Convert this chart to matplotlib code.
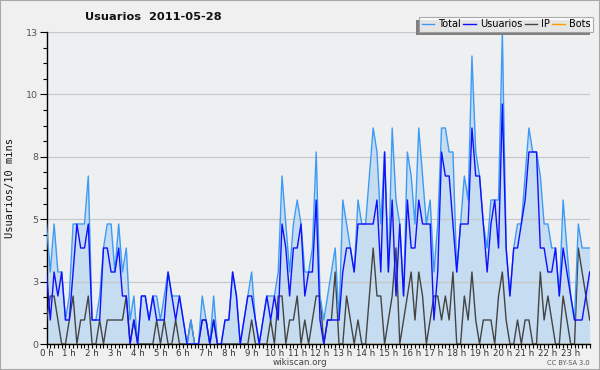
import matplotlib
matplotlib.use("Agg")
import matplotlib.pyplot as plt
from matplotlib.ticker import FixedLocator, MultipleLocator, FuncFormatter
from matplotlib.patches import Rectangle
import numpy as np

title = "Usuarios  2011-05-28"
ylabel = "Usuarios/10 mins"
series_names = ["Total", "Usuarios", "IP", "Bots"]

total = [5, 3, 5, 3, 3, 1, 2, 5, 5, 5, 5, 7, 1, 1, 2, 4, 5, 5, 3, 5, 3, 4, 1, 2,
         0, 2, 2, 1, 2, 2, 1, 2, 3, 2, 2, 2, 1, 0, 1, 0, 0, 2, 1, 0, 2, 0, 0, 1,
         1, 3, 2, 0, 1, 2, 3, 1, 0, 1, 2, 2, 2, 3, 7, 5, 3, 5, 6, 5, 3, 3, 4, 8,
         2, 1, 2, 3, 4, 1, 6, 5, 4, 3, 6, 5, 5, 7, 9, 8, 5, 8, 3, 9, 6, 5, 2, 8,
         7, 5, 9, 7, 5, 6, 3, 5, 9, 9, 8, 8, 3, 5, 7, 6, 12, 8, 7, 5, 4, 6, 6, 6,
         13, 4, 2, 4, 5, 5, 7, 9, 8, 8, 7, 5, 5, 4, 4, 2, 6, 4, 2, 1, 5, 4, 4, 4]
usuarios = [3, 1, 3, 2, 3, 1, 1, 3, 5, 4, 4, 5, 1, 1, 1, 4, 4, 3, 3, 4, 2, 2, 0, 1,
            0, 2, 2, 1, 2, 1, 1, 1, 3, 2, 1, 2, 1, 0, 0, 0, 0, 1, 1, 0, 1, 0, 0, 1,
            1, 3, 2, 0, 1, 2, 2, 1, 0, 1, 2, 1, 2, 1, 5, 4, 2, 4, 4, 5, 2, 3, 3, 6,
            1, 0, 1, 1, 1, 1, 3, 4, 4, 3, 5, 5, 5, 5, 5, 6, 3, 8, 3, 6, 2, 5, 2, 6,
            4, 4, 6, 5, 5, 5, 1, 3, 8, 7, 7, 5, 3, 5, 5, 5, 9, 7, 7, 5, 3, 5, 6, 4,
            10, 4, 2, 4, 4, 5, 6, 8, 8, 8, 4, 4, 3, 3, 4, 2, 4, 3, 2, 1, 1, 1, 2, 3]
ip = [1, 2, 2, 1, 0, 0, 1, 2, 0, 1, 1, 2, 0, 0, 1, 0, 1, 1, 1, 1, 1, 2, 0, 1,
      0, 0, 0, 0, 0, 1, 0, 1, 0, 0, 1, 0, 0, 0, 1, 0, 0, 1, 1, 0, 1, 0, 0, 0,
      0, 0, 0, 0, 0, 0, 1, 0, 0, 0, 0, 1, 0, 2, 2, 0, 1, 1, 2, 0, 1, 0, 1, 2,
      2, 0, 1, 1, 3, 0, 0, 2, 1, 0, 1, 0, 0, 2, 4, 2, 2, 0, 1, 2, 4, 0, 1, 2,
      3, 1, 3, 2, 0, 1, 2, 2, 1, 2, 1, 3, 0, 0, 2, 1, 3, 1, 0, 1, 1, 1, 0, 2,
      3, 1, 0, 0, 1, 0, 1, 1, 0, 0, 3, 1, 2, 1, 0, 0, 2, 1, 0, 0, 4, 3, 2, 1]
bots = [0] * 144

hour_labels = [f"{h} h" for h in range(24)]
ymax = 13

x = np.arange(len(total))

fig = plt.figure(figsize=(6.0, 3.7), dpi=100, facecolor="#f0f0f0")
ax = fig.add_axes([46.5 / 600, 1 - 344 / 370, (589.7 - 46.5) / 600, 312 / 370])
ax.set_facecolor("#eeeff1")

ax.fill_between(x, 0, total, color="#c6dcf0", zorder=1, linewidth=0)
ax.plot(x, bots, color="#ff9900", lw=1.0, zorder=2)
ax.plot(x, ip, color="#444444", lw=1.0, zorder=3)
ax.plot(x, total, color="#3d9bf5", lw=1.0, zorder=4)
ax.plot(x, usuarios, color="#1010ff", lw=1.0, zorder=5)

ax.set_xlim(0, len(total) - 1)
ax.set_ylim(0, ymax)

yt = np.linspace(0, ymax, 6)
ax.yaxis.set_major_locator(FixedLocator(yt))
ax.yaxis.set_major_formatter(FuncFormatter(lambda v, p: f"{int(round(v))}"))
ax.yaxis.set_minor_locator(FixedLocator(np.arange(0, ymax + 0.01, ymax / 20)))
ax.grid(axis="y", color="#c8c8c8", lw=0.9, zorder=0)

ax.xaxis.set_major_locator(FixedLocator(np.arange(0, 144, 6)))
ax.xaxis.set_major_formatter(FuncFormatter(lambda v, p: hour_labels[int(v) // 6] if int(v) // 6 < 24 else ""))
ax.xaxis.set_minor_locator(MultipleLocator(1))

for s in ["top", "right"]:
    ax.spines[s].set_visible(False)
for s in ["left", "bottom"]:
    ax.spines[s].set_color("black")
    ax.spines[s].set_linewidth(1.0)

ax.tick_params(axis="y", which="major", length=5, width=0.8, labelsize=6.8, labelcolor="#555555", pad=1)
ax.tick_params(axis="y", which="minor", length=3, width=0.8)
ax.tick_params(axis="x", which="major", length=3, width=0.8, labelsize=6.2, labelcolor="#333333", pad=0.5)
ax.tick_params(axis="x", which="minor", length=3, width=0.8)

fig.text(85 / 600, 1 - 17 / 370, title, fontsize=8.2, fontweight="bold", va="center", ha="left", color="#111111")
fig.text(10 / 600, 1 - 188 / 370, ylabel, rotation=90, fontsize=7.5, family="DejaVu Sans Mono",
         va="center", ha="center", color="#111111")
fig.text(300 / 600, 1 - 362.5 / 370, "wikiscan.org", fontsize=6.3, va="center", ha="center", color="#444444")
fig.text(590 / 600, 1 - 363 / 370, "CC BY-SA 3.0", fontsize=4.8, va="center", ha="right", color="#555555")

handles = [plt.Line2D([], [], color=c, lw=1.0) for c in ["#3d9bf5", "#1010ff", "#444444", "#ff9900"]]
leg = fig.legend(handles, series_names, loc="upper right", bbox_to_anchor=(593 / 600, 1 - 17 / 370),
                 ncol=4, fontsize=7, frameon=True, fancybox=False, handlelength=1.3, handletextpad=0.4,
                 columnspacing=0.25, borderpad=0.25, borderaxespad=0)
leg.get_frame().set_edgecolor("#999999")
leg.get_frame().set_linewidth(0.8)
leg.get_frame().set_facecolor("white")
leg.set_zorder(20)

fig.canvas.draw()
bb = leg.get_frame().get_window_extent(fig.canvas.get_renderer())
W, H = fig.bbox.width, fig.bbox.height
shadow = Rectangle(((bb.x0 - 3.5) / W, (bb.y0 - 3.5) / H), bb.width / W, bb.height / H,
                   transform=fig.transFigure, facecolor="#808080", edgecolor="none", zorder=15)
fig.patches.append(shadow)

fig.patches.append(Rectangle((0, 0), 1, 1, transform=fig.transFigure, fill=False,
                             edgecolor="#a8a8a8", lw=1.5, zorder=10))

fig.savefig("out.png", dpi=100, facecolor=fig.get_facecolor())
